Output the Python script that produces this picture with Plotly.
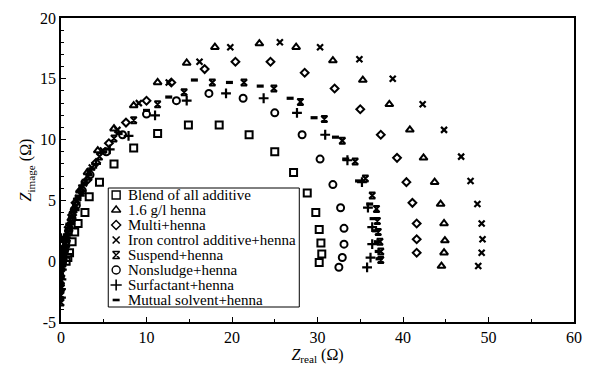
import plotly.graph_objects as go

# ---- data (Zreal, Zimage) ----
blend_x = [0.6, 0.8, 1.0, 1.3, 1.6, 2.0, 2.8, 3.3, 4.5, 6.2, 8.5, 11.3, 14.9, 18.5, 22.0, 25.0, 27.2, 28.8, 29.8, 30.2, 30.4, 30.5, 30.2]
blend_y = [0.0, 0.3, 0.7, 1.6, 2.4, 3.1, 4.0, 5.3, 6.5, 8.0, 9.3, 10.5, 11.2, 11.2, 10.4, 9.0, 7.3, 5.6, 4.0, 2.6, 1.5, 0.6, -0.1]

henna_x = [0.1, 0.2, 0.4, 0.6, 0.9, 1.2, 1.6, 2.2, 3.1, 4.3, 6.2, 8.5, 11.3, 14.7, 18.0, 23.2, 27.5, 31.8, 35.3, 38.4, 40.8, 42.4, 43.7, 44.4, 44.8, 44.9, 44.8, 44.5]
henna_y = [-0.3, 0.3, 1.0, 1.8, 2.6, 3.5, 4.4, 5.8, 7.3, 9.1, 10.9, 12.8, 14.7, 16.3, 17.6, 17.9, 17.6, 16.5, 14.9, 12.9, 10.8, 8.5, 6.5, 4.7, 3.1, 1.7, 0.7, -0.4]

multi_x = [0.1, 0.2, 0.4, 0.6, 0.9, 1.3, 1.7, 2.3, 3.1, 4.1, 5.6, 7.6, 10.0, 12.9, 16.8, 20.4, 24.5, 28.5, 32.0, 35.0, 37.4, 39.3, 40.4, 41.1, 41.6, 41.6, 41.6]
multi_y = [-0.2, 0.4, 1.1, 1.9, 2.8, 3.8, 4.8, 5.8, 6.7, 8.1, 9.7, 11.4, 13.2, 14.7, 15.8, 16.4, 16.4, 15.5, 14.2, 12.5, 10.4, 8.5, 6.5, 4.8, 3.1, 1.8, 0.7]

iron_x = [0.1, 0.3, 0.5, 0.8, 1.1, 1.5, 2.0, 2.7, 3.6, 4.9, 6.6, 9.1, 12.6, 16.2, 19.8, 25.6, 30.3, 34.9, 38.8, 42.3, 44.8, 46.8, 47.9, 48.7, 49.2, 49.3, 49.2, 48.8]
iron_y = [-0.1, 0.6, 1.4, 2.3, 3.2, 4.2, 5.2, 6.4, 7.7, 9.1, 10.8, 13.0, 14.7, 16.4, 17.6, 18.0, 17.6, 16.6, 15.0, 12.9, 10.8, 8.6, 6.6, 4.7, 3.1, 1.8, 0.7, -0.4]

suspend_x = [0.0, 0.0, 0.05, 0.05, 0.1, 0.1, 0.2, 0.4, 0.6, 0.9, 1.3, 1.8, 2.4, 3.3, 4.5, 6.2, 8.5, 11.3, 14.4, 17.7, 21.4, 24.9, 28.0, 30.8, 32.9, 34.4, 35.6, 36.4, 36.9, 37.0, 37.1, 37.3, 37.4, 37.4]
suspend_y = [-3.4, -2.8, -2.2, -1.6, -1.0, -0.4, 0.2, 1.0, 1.9, 2.8, 3.8, 4.9, 6.0, 7.3, 8.6, 10.1, 11.6, 12.9, 13.9, 14.7, 14.7, 14.2, 13.1, 11.7, 9.9, 8.2, 6.8, 5.4, 4.3, 3.3, 2.4, 1.6, 0.8, 0.1]

nonsludge_x = [0.2, 0.4, 0.6, 0.9, 1.3, 1.8, 2.5, 3.4, 5.3, 7.2, 10.0, 13.5, 17.3, 21.3, 25.0, 28.2, 30.3, 31.8, 32.7, 33.1, 33.1, 32.9, 32.5]
nonsludge_y = [0.0, 0.8, 1.6, 2.5, 3.5, 4.6, 5.8, 7.1, 9.0, 10.4, 12.1, 13.2, 13.8, 13.4, 12.2, 10.4, 8.4, 6.3, 4.4, 2.7, 1.4, 0.3, -0.5]

surf_x = [0.0, 0.0, 0.05, 0.1, 0.2, 0.0, 0.5, 0.8, 1.1, 1.6, 2.2, 3.0, 4.1, 5.7, 7.9, 11.0, 14.7, 19.3, 23.7, 27.6, 30.9, 33.5, 35.2, 35.9, 36.4, 36.4, 36.2, 35.8]
surf_y = [-3.0, -2.3, -1.5, -0.7, 0.1, 1.9, 1.2, 2.2, 3.1, 4.2, 5.4, 6.7, 8.0, 9.2, 10.3, 12.0, 13.2, 13.8, 13.4, 12.2, 10.4, 8.3, 6.5, 4.4, 2.8, 1.4, 0.3, -0.5]

mutual_x = [0.1, 0.3, 0.5, 0.8, 1.1, 1.5, 2.0, 2.7, 3.6, 5.0, 6.8, 10.0, 12.6, 15.6, 19.7, 23.3, 26.8, 29.6, 32.1, 33.3, 34.8, 36.1, 36.5, 36.8, 37.0, 37.1, 37.2]
mutual_y = [-0.3, 0.5, 1.3, 2.2, 3.1, 4.1, 5.2, 6.4, 7.6, 9.0, 10.5, 12.4, 13.5, 14.9, 14.7, 14.4, 13.4, 11.8, 10.2, 8.4, 6.6, 4.7, 3.5, 2.5, 1.6, 0.8, 0.2]

names = ["Blend of all additive", "1.6 g/l henna", "Multi+henna",
         "Iron control additive+henna", "Suspend+henna", "Nonsludge+henna",
         "Surfactant+henna", "Mutual solvent+henna"]

x_ticks = [0, 10, 20, 30, 40, 50, 60]
y_ticks = [-5, 0, 5, 10, 15, 20]

series = [
    (blend_x, blend_y, "square-open", 7, 2.0),
    (henna_x, henna_y, "triangle-up-open", 7, 2.0),
    (multi_x, multi_y, "diamond-open", 6, 2.0),
    (iron_x, iron_y, "x-thin-open", 6, 2.2),
    (suspend_x, suspend_y, "hourglass-open", 6, 2.0),
    (nonsludge_x, nonsludge_y, "circle-open", 7, 2.0),
    (surf_x, surf_y, "cross-thin-open", 7, 2.2),
    (mutual_x, mutual_y, "line-ew-open", 5, 3.2),
]

# ---- layout geometry (pixels) ----
W, H = 589, 368
L, R, T, B = 61, 7, 18, 46
PW, PH = W - L - R, H - T - B

def px2fx(px):
    return (px - L) / PW

def py2fy(py):
    return (H - B - py) / PH

# legend box (pixels) and rows
LEG_L, LEG_R, LEG_T, LEG_B = 109, 303, 188, 307
ROW0, ROW_STEP = 195, 15
MARK_X, TEXT_X = 117, 127

font_family = "Liberation Serif, DejaVu Serif, serif"

fig = go.Figure()
for (xs, ys, sym, sz, lw), nm in zip(series, names):
    fig.add_trace(go.Scatter(
        x=xs, y=ys, mode="markers", name=nm, showlegend=False,
        marker=dict(symbol=sym, size=sz, color="black",
                    line=dict(color="black", width=lw)),
    ))

# hand-made legend (markers on an overlay axis spanning the plot area 0..1)
for i, ((xs, ys, sym, sz, lw), nm) in enumerate(zip(series, names)):
    fy = py2fy(ROW0 + i * ROW_STEP)
    leg_size = sz + 1 if sym != "line-ew-open" else sz
    fig.add_trace(go.Scatter(
        x=[px2fx(MARK_X)], y=[fy], xaxis="x2", yaxis="y2",
        mode="markers", showlegend=False, hoverinfo="skip",
        marker=dict(symbol=sym, size=leg_size, color="black",
                    line=dict(color="black", width=max(1.3, lw - 0.6))),
    ))
    fig.add_annotation(
        x=px2fx(TEXT_X), y=fy, xref="paper", yref="paper",
        text=nm, showarrow=False, xanchor="left", yanchor="middle",
        font=dict(size=15, family=font_family, color="black"),
    )

fig.add_shape(
    type="rect", xref="paper", yref="paper", layer="below",
    x0=px2fx(LEG_L), x1=px2fx(LEG_R), y0=py2fy(LEG_B), y1=py2fy(LEG_T),
    line=dict(color="black", width=1), fillcolor="white",
)

fig.update_layout(
    width=W, height=H,
    margin=dict(l=L, r=R, t=T, b=B),
    paper_bgcolor="white", plot_bgcolor="white",
    font=dict(family=font_family, size=16, color="black"),
    showlegend=False,
    xaxis2=dict(overlaying="x", range=[0, 1], visible=False, fixedrange=True),
    yaxis2=dict(overlaying="y", range=[0, 1], visible=False, fixedrange=True),
)

fig.layout.xaxis.update(
    range=[0, 60], tickvals=x_ticks, ticktext=[str(v) for v in x_ticks],
    showgrid=False, zeroline=False,
    showline=True, linecolor="black", linewidth=1.5, mirror=True,
    ticks="inside", ticklen=5, tickwidth=1.2, tickcolor="black",
    minor=dict(dtick=5, ticks="inside", ticklen=3, tickwidth=1, tickcolor="black", showgrid=False),
    title=dict(text="<i>Z</i><sub>real</sub> (Ω)", font=dict(size=16, color="black"), standoff=2),
)
fig.layout.yaxis.update(
    range=[-5, 20], tickvals=y_ticks, ticktext=[str(v) for v in y_ticks],
    showgrid=False, zeroline=False,
    showline=True, linecolor="black", linewidth=1.5, mirror=True,
    ticks="inside", ticklen=5, tickwidth=1.2, tickcolor="black",
    minor=dict(dtick=1, ticks="inside", ticklen=3, tickwidth=1, tickcolor="black", showgrid=False),
    title=dict(text="<i>Z</i><sub>image</sub> (Ω)", font=dict(size=16, color="black"), standoff=4),
)

fig.write_html("out.html")
